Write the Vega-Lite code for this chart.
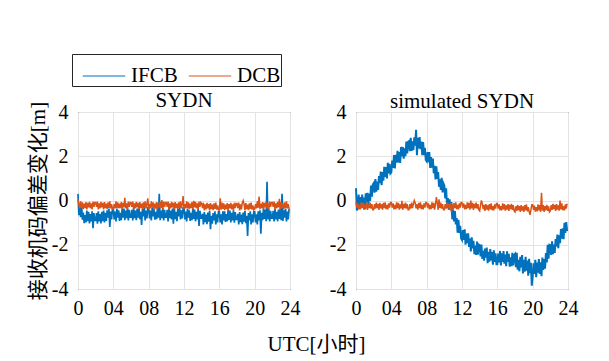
{
"$schema":"https://vega.github.io/schema/vega-lite/v6.json",
"autosize":{"type":"none"},
"padding":{"left":78,"top":112,"right":531,"bottom":249},
"background":"white",
"data":{"values":[
{"t":0,"a":0.3,"b":0.05,"c":0.55,"d":-0.09},
{"t":0.1,"a":-0.66,"b":-0.17,"c":-0.45,"d":-0.32},
{"t":0.2,"a":-0.30,"b":-0.36,"c":-0.25,"d":-0.13},
{"t":0.3,"a":-0.75,"b":-0.04,"c":0.27,"d":-0.40},
{"t":0.4,"a":-0.16,"b":-0.33,"c":-0.39,"d":-0.20},
{"t":0.5,"a":-0.87,"b":-0.08,"c":0.16,"d":-0.39},
{"t":0.6,"a":-0.54,"b":-0.39,"c":-0.23,"d":-0.08},
{"t":0.7,"a":-1.02,"b":-0.14,"c":0.27,"d":-0.35},
{"t":0.8,"a":-0.66,"b":-0.34,"c":-0.30,"d":-0.11},
{"t":0.9,"a":-0.99,"b":-0.07,"c":0.13,"d":-0.41},
{"t":1.0,"a":-0.45,"b":-0.40,"c":-0.40,"d":-0.17},
{"t":1.1,"a":-0.93,"b":-0.11,"c":0.33,"d":-0.36},
{"t":1.2,"a":-0.51,"b":-0.31,"c":-0.09,"d":-0.11},
{"t":1.3,"a":-1.04,"b":-0.06,"c":0.35,"d":-0.42},
{"t":1.4,"a":-0.61,"b":-0.35,"c":-0.17,"d":-0.15},
{"t":1.5,"a":-0.95,"b":-0.13,"c":0.31,"d":-0.34},
{"t":1.6,"a":-0.49,"b":-0.40,"c":-0.02,"d":-0.10},
{"t":1.7,"a":-1.25,"b":-0.05,"c":0.67,"d":-0.37},
{"t":1.8,"a":-0.57,"b":-0.29,"c":0.17,"d":-0.16},
{"t":1.9,"a":-0.90,"b":-0.09,"c":0.72,"d":-0.42},
{"t":2.0,"a":-0.90,"b":-0.09,"c":0.78,"d":-0.42},
{"t":2.1,"a":-0.57,"b":-0.29,"c":0.35,"d":-0.16},
{"t":2.2,"a":-1.05,"b":-0.05,"c":0.97,"d":-0.37},
{"t":2.3,"a":-0.49,"b":-0.40,"c":0.40,"d":-0.10},
{"t":2.4,"a":-0.95,"b":-0.13,"c":0.85,"d":-0.34},
{"t":2.5,"a":-0.61,"b":-0.35,"c":0.48,"d":-0.15},
{"t":2.6,"a":-1.04,"b":-0.06,"c":1.11,"d":-0.42},
{"t":2.7,"a":-0.51,"b":-0.31,"c":0.78,"d":-0.11},
{"t":2.8,"a":-0.93,"b":-0.11,"c":1.31,"d":-0.36},
{"t":2.9,"a":-0.45,"b":-0.40,"c":0.69,"d":-0.17},
{"t":3.0,"a":-0.99,"b":-0.07,"c":1.28,"d":-0.41},
{"t":3.1,"a":-0.56,"b":-0.34,"c":0.90,"d":-0.11},
{"t":3.2,"a":-0.92,"b":-0.14,"c":1.52,"d":-0.35},
{"t":3.3,"a":-0.44,"b":-0.39,"c":1.07,"d":-0.08},
{"t":3.4,"a":-0.77,"b":-0.08,"c":1.51,"d":-0.39},
{"t":3.5,"a":-0.36,"b":-0.33,"c":1.00,"d":-0.20},
{"t":3.6,"a":-1.2,"b":-0.04,"c":1.70,"d":-0.40},
{"t":3.7,"a":-0.50,"b":-0.36,"c":1.22,"d":-0.13},
{"t":3.8,"a":-0.86,"b":-0.17,"c":1.66,"d":-0.32},
{"t":3.9,"a":-0.38,"b":-0.38,"c":1.22,"d":-0.09},
{"t":4.0,"a":-0.38,"b":-0.38,"c":1.27,"d":-0.09},
{"t":4.1,"a":-0.86,"b":-0.17,"c":1.81,"d":-0.32},
{"t":4.2,"a":-0.50,"b":-0.36,"c":1.47,"d":-0.13},
{"t":4.3,"a":-0.95,"b":-0.04,"c":2.05,"d":-0.40},
{"t":4.4,"a":-0.36,"b":-0.33,"c":1.45,"d":-0.20},
{"t":4.5,"a":-0.77,"b":-0.08,"c":2.06,"d":-0.39},
{"t":4.6,"a":-0.44,"b":-0.35,"c":1.71,"d":-0.08},
{"t":4.7,"a":-0.92,"b":-0.14,"c":2.25,"d":-0.35},
{"t":4.8,"a":-0.56,"b":-0.34,"c":1.72,"d":-0.11},
{"t":4.9,"a":-0.89,"b":-0.07,"c":2.19,"d":-0.41},
{"t":5.0,"a":-0.35,"b":-0.37,"c":1.70,"d":-0.17},
{"t":5.1,"a":-0.78,"b":-0.11,"c":2.42,"d":-0.36},
{"t":5.2,"a":-0.36,"b":-0.31,"c":1.99,"d":-0.02},
{"t":5.3,"a":-0.89,"b":0.12,"c":2.42,"d":-0.42},
{"t":5.4,"a":-0.46,"b":-0.35,"c":1.89,"d":-0.15},
{"t":5.5,"a":-0.80,"b":-0.13,"c":2.36,"d":-0.34},
{"t":5.6,"a":-0.34,"b":-0.40,"c":2.00,"d":-0.10},
{"t":5.7,"a":-0.90,"b":-0.05,"c":2.66,"d":-0.37},
{"t":5.8,"a":-0.42,"b":-0.29,"c":2.13,"d":-0.16},
{"t":5.9,"a":-0.75,"b":-0.09,"c":2.65,"d":-0.42},
{"t":6.0,"a":-0.75,"b":-0.09,"c":2.68,"d":-0.42},
{"t":6.1,"a":-0.42,"b":-0.29,"c":2.23,"d":-0.16},
{"t":6.2,"a":-0.90,"b":-0.05,"c":2.83,"d":-0.37},
{"t":6.3,"a":-0.34,"b":-0.40,"c":2.24,"d":-0.10},
{"t":6.4,"a":-0.80,"b":-0.13,"c":2.67,"d":-0.34},
{"t":6.5,"a":-0.46,"b":-0.35,"c":2.28,"d":-0.15},
{"t":6.6,"a":-0.89,"b":-0.06,"c":2.86,"d":0.0},
{"t":6.7,"a":-0.36,"b":-0.31,"c":2.48,"d":-0.11},
{"t":6.8,"a":-0.78,"b":-0.11,"c":3.2,"d":-0.36},
{"t":6.9,"a":-0.30,"b":-0.40,"c":2.05,"d":-0.17},
{"t":7.0,"a":-0.84,"b":-0.07,"c":2.83,"d":-0.41},
{"t":7.1,"a":-0.51,"b":-0.34,"c":2.35,"d":-0.11},
{"t":7.2,"a":-1.1,"b":-0.14,"c":2.87,"d":-0.35},
{"t":7.3,"a":-0.39,"b":-0.39,"c":2.32,"d":-0.08},
{"t":7.4,"a":-0.72,"b":-0.08,"c":2.66,"d":-0.39},
{"t":7.5,"a":-0.31,"b":-0.33,"c":2.05,"d":-0.20},
{"t":7.6,"a":-0.90,"b":-0.04,"c":2.64,"d":-0.40},
{"t":7.7,"a":-0.45,"b":-0.36,"c":2.05,"d":-0.13},
{"t":7.8,"a":-0.81,"b":-0.17,"c":2.38,"d":-0.32},
{"t":7.9,"a":-0.33,"b":0.1,"c":1.83,"d":-0.09},
{"t":8.0,"a":-0.33,"b":-0.38,"c":1.77,"d":-0.09},
{"t":8.1,"a":-0.81,"b":-0.17,"c":2.19,"d":-0.32},
{"t":8.2,"a":-0.45,"b":-0.36,"c":1.73,"d":-0.13},
{"t":8.3,"a":-0.90,"b":-0.04,"c":2.19,"d":-0.40},
{"t":8.4,"a":-0.31,"b":-0.30,"c":1.47,"d":-0.20},
{"t":8.5,"a":-0.72,"b":-0.08,"c":1.96,"d":-0.39},
{"t":8.6,"a":-0.39,"b":-0.39,"c":1.48,"d":-0.08},
{"t":8.7,"a":-0.87,"b":-0.14,"c":1.89,"d":-0.35},
{"t":8.8,"a":-0.51,"b":-0.37,"c":1.23,"d":-0.11},
{"t":8.9,"a":-0.84,"b":-0.07,"c":1.57,"d":-0.41},
{"t":9.0,"a":-0.30,"b":-0.40,"c":0.95,"d":-0.17},
{"t":9.1,"a":-0.78,"b":-0.11,"c":1.54,"d":0.15},
{"t":9.2,"a":0.3,"b":-0.31,"c":0.98,"d":-0.11},
{"t":9.3,"a":-0.89,"b":-0.06,"c":1.28,"d":-0.42},
{"t":9.4,"a":-0.46,"b":-0.35,"c":0.62,"d":0.05},
{"t":9.5,"a":-0.80,"b":0.02,"c":0.96,"d":-0.34},
{"t":9.6,"a":-0.34,"b":-0.40,"c":0.48,"d":-0.10},
{"t":9.7,"a":-0.90,"b":-0.05,"c":1.02,"d":-0.37},
{"t":9.8,"a":-0.42,"b":-0.29,"c":0.37,"d":-0.16},
{"t":9.9,"a":-0.75,"b":-0.09,"c":0.77,"d":-0.42},
{"t":10.0,"a":-0.75,"b":-0.09,"c":0.68,"d":-0.42},
{"t":10.1,"a":-0.42,"b":-0.29,"c":0.09,"d":-0.16},
{"t":10.2,"a":-0.95,"b":-0.05,"c":0.55,"d":-0.37},
{"t":10.3,"a":-0.34,"b":-0.40,"c":-0.18,"d":-0.10},
{"t":10.4,"a":-0.80,"b":-0.13,"c":0.11,"d":-0.34},
{"t":10.5,"a":-0.46,"b":-0.35,"c":-0.42,"d":-0.15},
{"t":10.6,"a":-0.85,"b":-0.06,"c":0.05,"d":-0.42},
{"t":10.7,"a":-0.36,"b":-0.31,"c":-0.44,"d":-0.11},
{"t":10.8,"a":-1.05,"b":-0.11,"c":-0.07,"d":-0.5},
{"t":10.9,"a":-0.30,"b":-0.40,"c":-0.85,"d":-0.17},
{"t":11.0,"a":-0.84,"b":-0.07,"c":-0.42,"d":-0.41},
{"t":11.1,"a":-0.51,"b":-0.34,"c":-0.95,"d":-0.11},
{"t":11.2,"a":-0.93,"b":-0.14,"c":-0.48,"d":-0.35},
{"t":11.3,"a":-0.39,"b":-0.39,"c":-1.08,"d":-0.08},
{"t":11.4,"a":-0.72,"b":-0.08,"c":-0.79,"d":-0.39},
{"t":11.5,"a":-0.31,"b":-0.33,"c":-1.45,"d":-0.20},
{"t":11.6,"a":-0.86,"b":-0.04,"c":-0.87,"d":-0.40},
{"t":11.7,"a":-0.45,"b":-0.36,"c":-1.47,"d":-0.13},
{"t":11.8,"a":-0.81,"b":-0.17,"c":-1.15,"d":-0.32},
{"t":11.9,"a":-0.33,"b":0.2,"c":-1.71,"d":-0.09},
{"t":12.0,"a":-0.33,"b":-0.38,"c":-1.78,"d":-0.09},
{"t":12.1,"a":-0.86,"b":-0.17,"c":-1.34,"d":-0.32},
{"t":12.2,"a":-0.50,"b":-0.36,"c":-1.78,"d":-0.13},
{"t":12.3,"a":-0.95,"b":-0.04,"c":-1.30,"d":-0.40},
{"t":12.4,"a":-0.36,"b":-0.33,"c":-2.00,"d":-0.20},
{"t":12.5,"a":-0.77,"b":-0.08,"c":-1.49,"d":-0.39},
{"t":12.6,"a":-0.44,"b":-0.39,"c":-1.93,"d":-0.08},
{"t":12.7,"a":-0.92,"b":-0.14,"c":-1.48,"d":-0.35},
{"t":12.8,"a":-0.56,"b":-0.34,"c":-2.10,"d":-0.11},
{"t":12.9,"a":-0.89,"b":-0.07,"c":-1.72,"d":-0.41},
{"t":13.0,"a":-0.35,"b":-0.40,"c":-2.30,"d":0.0},
{"t":13.1,"a":-0.83,"b":-0.02,"c":-1.66,"d":-0.36},
{"t":13.2,"a":-0.41,"b":-0.31,"c":-2.17,"d":-0.11},
{"t":13.3,"a":-0.94,"b":-0.06,"c":-1.82,"d":-0.42},
{"t":13.4,"a":-0.51,"b":-0.35,"c":-2.43,"d":-0.15},
{"t":13.5,"a":-0.85,"b":-0.13,"c":-2.04,"d":-0.34},
{"t":13.6,"a":-0.39,"b":-0.40,"c":-2.46,"d":-0.10},
{"t":13.7,"a":-1.15,"b":-0.05,"c":-1.86,"d":-0.37},
{"t":13.8,"a":-0.47,"b":-0.29,"c":-2.45,"d":-0.16},
{"t":13.9,"a":-0.80,"b":-0.09,"c":-1.99,"d":-0.42},
{"t":14.0,"a":-0.80,"b":-0.14,"c":-2.02,"d":-0.47},
{"t":14.1,"a":-0.60,"b":-0.34,"c":-2.53,"d":-0.21},
{"t":14.2,"a":-1.08,"b":-0.10,"c":-1.99,"d":0.0},
{"t":14.3,"a":-0.52,"b":-0.45,"c":-2.64,"d":-0.15},
{"t":14.4,"a":-0.98,"b":-0.18,"c":-2.27,"d":-0.39},
{"t":14.5,"a":-0.64,"b":-0.40,"c":-2.72,"d":-0.20},
{"t":14.6,"a":-1.07,"b":-0.11,"c":-2.17,"d":-0.47},
{"t":14.7,"a":-0.54,"b":-0.36,"c":-2.58,"d":-0.16},
{"t":14.8,"a":-0.96,"b":-0.16,"c":-2.13,"d":-0.41},
{"t":14.9,"a":-0.48,"b":-0.45,"c":-2.83,"d":-0.22},
{"t":15.0,"a":-1.3,"b":-0.12,"c":-2.32,"d":-0.46},
{"t":15.1,"a":-0.69,"b":-0.39,"c":-2.76,"d":-0.16},
{"t":15.2,"a":-1.05,"b":-0.19,"c":-2.20,"d":-0.40},
{"t":15.3,"a":-0.57,"b":-0.44,"c":-2.71,"d":-0.13},
{"t":15.4,"a":-0.90,"b":-0.13,"c":-2.33,"d":-0.44},
{"t":15.5,"a":-0.49,"b":-0.38,"c":-2.90,"d":-0.25},
{"t":15.6,"a":-1.08,"b":-0.09,"c":-2.25,"d":-0.45},
{"t":15.7,"a":-0.63,"b":-0.41,"c":-2.78,"d":-0.18},
{"t":15.8,"a":-0.99,"b":-0.22,"c":-2.39,"d":-0.37},
{"t":15.9,"a":-0.51,"b":-0.43,"c":-2.88,"d":-0.14},
{"t":16.0,"a":-0.51,"b":-0.43,"c":-2.88,"d":-0.14},
{"t":16.1,"a":-0.99,"b":0.1,"c":-2.40,"d":-0.37},
{"t":16.2,"a":-0.63,"b":-0.41,"c":-2.80,"d":-0.18},
{"t":16.3,"a":-1.08,"b":-0.09,"c":-2.28,"d":-0.45},
{"t":16.4,"a":-0.49,"b":-0.38,"c":-2.94,"d":-0.25},
{"t":16.5,"a":-0.90,"b":-0.13,"c":-2.39,"d":-0.44},
{"t":16.6,"a":-0.49,"b":-0.44,"c":-2.78,"d":-0.13},
{"t":16.7,"a":-0.97,"b":-0.19,"c":-2.29,"d":-0.40},
{"t":16.8,"a":-0.61,"b":-0.39,"c":-2.86,"d":-0.16},
{"t":16.9,"a":-0.94,"b":-0.12,"c":-2.44,"d":-0.46},
{"t":17.0,"a":-0.40,"b":-0.45,"c":-2.97,"d":-0.22},
{"t":17.1,"a":-0.88,"b":-0.16,"c":-2.30,"d":-0.41},
{"t":17.2,"a":-0.46,"b":-0.36,"c":-2.78,"d":-0.16},
{"t":17.3,"a":-0.99,"b":-0.11,"c":-2.41,"d":-0.47},
{"t":17.4,"a":-0.56,"b":-0.40,"c":-2.99,"d":-0.20},
{"t":17.5,"a":-0.90,"b":-0.18,"c":-2.57,"d":-0.39},
{"t":17.6,"a":-0.44,"b":-0.45,"c":-2.97,"d":-0.15},
{"t":17.7,"a":-1.00,"b":-0.10,"c":-2.36,"d":-0.42},
{"t":17.8,"a":-0.52,"b":-0.34,"c":-2.93,"d":-0.21},
{"t":17.9,"a":-0.85,"b":-0.14,"c":-2.46,"d":-0.47},
{"t":18.0,"a":-0.85,"b":-0.14,"c":-2.41,"d":-0.52},
{"t":18.1,"a":-0.60,"b":-0.34,"c":-3.01,"d":-0.26},
{"t":18.2,"a":-1.08,"b":-0.10,"c":-2.36,"d":-0.47},
{"t":18.3,"a":-0.52,"b":-0.45,"c":-3.13,"d":-0.20},
{"t":18.4,"a":-0.98,"b":-0.18,"c":-2.68,"d":-0.44},
{"t":18.5,"a":-0.64,"b":-0.40,"c":-3.20,"d":-0.25},
{"t":18.6,"a":-1.07,"b":-0.11,"c":-2.54,"d":-0.52},
{"t":18.7,"a":-0.54,"b":0.0,"c":-3.02,"d":-0.21},
{"t":18.8,"a":-0.96,"b":-0.16,"c":-2.47,"d":-0.46},
{"t":18.9,"a":-0.48,"b":-0.45,"c":-3.30,"d":-0.27},
{"t":19.0,"a":-1.02,"b":-0.12,"c":-2.68,"d":-0.51},
{"t":19.1,"a":-0.69,"b":-0.39,"c":-3.22,"d":-0.21},
{"t":19.2,"a":-1.6,"b":-0.19,"c":-2.55,"d":-0.45},
{"t":19.3,"a":-0.57,"b":-0.44,"c":-3.17,"d":-0.18},
{"t":19.4,"a":-0.90,"b":-0.13,"c":-2.71,"d":-0.49},
{"t":19.5,"a":-0.49,"b":-0.38,"c":-3.40,"d":-0.30},
{"t":19.6,"a":-1.08,"b":-0.09,"c":-2.63,"d":-0.50},
{"t":19.7,"a":-0.63,"b":-0.41,"c":-3.28,"d":-0.65},
{"t":19.8,"a":-0.99,"b":-0.22,"c":-2.82,"d":-0.42},
{"t":19.9,"a":-0.51,"b":-0.43,"c":-3.85,"d":-0.19},
{"t":20.0,"a":-0.51,"b":-0.38,"c":-3.43,"d":-0.19},
{"t":20.1,"a":-0.99,"b":-0.17,"c":-2.84,"d":-0.42},
{"t":20.2,"a":-0.63,"b":-0.36,"c":-3.32,"d":-0.23},
{"t":20.3,"a":-1.08,"b":-0.04,"c":-2.68,"d":-0.50},
{"t":20.4,"a":-0.49,"b":-0.33,"c":-3.47,"d":-0.30},
{"t":20.5,"a":-0.90,"b":0.18,"c":-2.80,"d":-0.49},
{"t":20.6,"a":-0.44,"b":-0.39,"c":-3.26,"d":-0.18},
{"t":20.7,"a":-1.5,"b":-0.14,"c":-2.65,"d":-0.45},
{"t":20.8,"a":-0.56,"b":-0.34,"c":-3.32,"d":-0.21},
{"t":20.9,"a":-0.89,"b":-0.07,"c":-2.79,"d":-0.51},
{"t":21.0,"a":-0.35,"b":-0.40,"c":-3.42,"d":0.35},
{"t":21.1,"a":-0.83,"b":-0.11,"c":-2.58,"d":-0.46},
{"t":21.2,"a":-0.41,"b":-0.31,"c":-3.14,"d":-0.21},
{"t":21.3,"a":-0.94,"b":-0.06,"c":-2.65,"d":-0.52},
{"t":21.4,"a":0.85,"b":-0.35,"c":-3.08,"d":-0.25},
{"t":21.5,"a":-0.85,"b":-0.13,"c":-2.37,"d":-0.44},
{"t":21.6,"a":-0.39,"b":-0.40,"c":-2.80,"d":-0.20},
{"t":21.7,"a":-0.95,"b":-0.05,"c":-2.00,"d":-0.47},
{"t":21.8,"a":-0.47,"b":-0.29,"c":-2.63,"d":-0.26},
{"t":21.9,"a":-0.80,"b":-0.09,"c":-2.00,"d":-0.52},
{"t":22.0,"a":-0.80,"b":-0.09,"c":-2.02,"d":-0.47},
{"t":22.1,"a":-0.47,"b":-0.29,"c":-2.46,"d":-0.21},
{"t":22.2,"a":-0.95,"b":-0.05,"c":-1.85,"d":-0.42},
{"t":22.3,"a":-0.39,"b":-0.40,"c":-2.43,"d":-0.15},
{"t":22.4,"a":-0.85,"b":-0.13,"c":-1.99,"d":-0.39},
{"t":22.5,"a":-0.51,"b":-0.35,"c":-2.37,"d":-0.20},
{"t":22.6,"a":-0.94,"b":-0.06,"c":-1.74,"d":-0.47},
{"t":22.7,"a":-0.41,"b":-0.31,"c":-2.07,"d":-0.16},
{"t":22.8,"a":-0.83,"b":0.08,"c":-1.54,"d":-0.41},
{"t":22.9,"a":-0.35,"b":-0.40,"c":-2.16,"d":-0.22},
{"t":23.0,"a":-0.89,"b":-0.07,"c":-1.57,"d":-0.46},
{"t":23.1,"a":0.3,"b":-0.34,"c":-1.93,"d":0.0},
{"t":23.2,"a":-0.92,"b":-0.14,"c":-1.29,"d":-0.40},
{"t":23.3,"a":-0.44,"b":-0.39,"c":-1.72,"d":-0.13},
{"t":23.4,"a":-0.77,"b":-0.08,"c":-1.26,"d":-0.44},
{"t":23.5,"a":-0.36,"b":-0.33,"c":-1.75,"d":-0.25},
{"t":23.6,"a":-0.95,"b":-0.04,"c":-1.01,"d":-0.45},
{"t":23.7,"a":-0.50,"b":-0.36,"c":-1.46,"d":-0.18},
{"t":23.8,"a":-0.86,"b":-0.17,"c":-0.98,"d":-0.37},
{"t":23.9,"a":-0.38,"b":-0.38,"c":-1.38,"d":-0.14}
]},
"spacing":66,
"bounds":"flush",
"resolve":{"scale":{"color":"shared"},"legend":{"color":"shared"}},
"hconcat":[
{"width":212,"height":177,"title":"SYDN",
"layer":[
{"mark":{"type":"line","strokeWidth":1.7},
"encoding":{
"x":{"field":"t","type":"quantitative","scale":{"domain":[0,24],"nice":false},"axis":{"values":[0,4,8,12,16,20,24],"labelExpr":"datum.value > 0 && datum.value < 10 ? '0' + datum.value : '' + datum.value","title":"UTC[小时]","titleX":238,"titleY":61,"titleBaseline":"alphabetic","titleAlign":"center"}},
"y":{"field":"a","type":"quantitative","scale":{"domain":[-4,4],"nice":false},"axis":{"values":[-4,-2,0,2,4],"labelExpr":"'' + datum.value","title":"接收机码偏差变化[m]","titleX":-40,"titleY":88.5,"titleAngle":-90,"titleBaseline":"middle","titleAlign":"center"}},
"color":{"datum":"IFCB","type":"nominal","scale":{"domain":["IFCB","DCB"],"range":["#0072BD","#D95319"]},
"legend":{"orient":"none","legendX":-6,"legendY":-58,"direction":"horizontal","title":null,"symbolType":"stroke","symbolSize":1800,"symbolStrokeWidth":1,"symbolOffset":10,"labelFont":"Liberation Serif","labelFontSize":21,"labelColor":"#000","labelOffset":5,"columnPadding":0,"padding":0,"strokeColor":"#262626","fillColor":"#ffffff","cornerRadius":0}}
}},
{"mark":{"type":"line","strokeWidth":1.5},
"encoding":{
"x":{"field":"t","type":"quantitative","scale":{"domain":[0,24],"nice":false},"axis":{"values":[0,4,8,12,16,20,24],"labelExpr":"datum.value > 0 && datum.value < 10 ? '0' + datum.value : '' + datum.value","title":"UTC[小时]","titleX":238,"titleY":61,"titleBaseline":"alphabetic","titleAlign":"center"}},
"y":{"field":"b","type":"quantitative","scale":{"domain":[-4,4],"nice":false},"axis":{"values":[-4,-2,0,2,4],"labelExpr":"'' + datum.value","title":"接收机码偏差变化[m]","titleX":-40,"titleY":88.5,"titleAngle":-90,"titleBaseline":"middle","titleAlign":"center"}},
"color":{"datum":"DCB","type":"nominal"}
}}
]},
{"width":212,"height":177,"title":"simulated SYDN",
"layer":[
{"mark":{"type":"line","strokeWidth":2},
"encoding":{
"x":{"field":"t","type":"quantitative","scale":{"domain":[0,24],"nice":false},"axis":{"values":[0,4,8,12,16,20,24],"labelExpr":"datum.value > 0 && datum.value < 10 ? '0' + datum.value : '' + datum.value","title":null}},
"y":{"field":"c","type":"quantitative","scale":{"domain":[-4,4],"nice":false},"axis":{"values":[-4,-2,0,2,4],"labelExpr":"'' + datum.value","title":null}},
"color":{"datum":"IFCB","type":"nominal"}
}},
{"mark":{"type":"line","strokeWidth":1.5},
"encoding":{
"x":{"field":"t","type":"quantitative","scale":{"domain":[0,24],"nice":false},"axis":{"values":[0,4,8,12,16,20,24],"labelExpr":"datum.value > 0 && datum.value < 10 ? '0' + datum.value : '' + datum.value","title":null}},
"y":{"field":"d","type":"quantitative","scale":{"domain":[-4,4],"nice":false},"axis":{"values":[-4,-2,0,2,4],"labelExpr":"'' + datum.value","title":null}},
"color":{"datum":"DCB","type":"nominal"}
}}
]}
],
"config":{
"font":"Liberation Serif",
"view":{"stroke":"#262626","strokeWidth":1},
"axis":{"domain":false,"ticks":false,"grid":true,"gridColor":"#e3e3e3","gridWidth":1,"labelFont":"Liberation Serif","labelFontSize":20,"labelColor":"#000","labelPadding":9,"labelFlush":false,"labelOverlap":false,"titleFont":"Liberation Serif, Noto Sans CJK SC","titleFontSize":21,"titleFontWeight":"normal","titleColor":"#000"},
"axisY":{"labelPadding":10},
"title":{"font":"Liberation Serif","fontSize":21,"fontWeight":"normal","color":"#000","frame":"group","anchor":"middle","baseline":"alphabetic","offset":-10}
}
}
